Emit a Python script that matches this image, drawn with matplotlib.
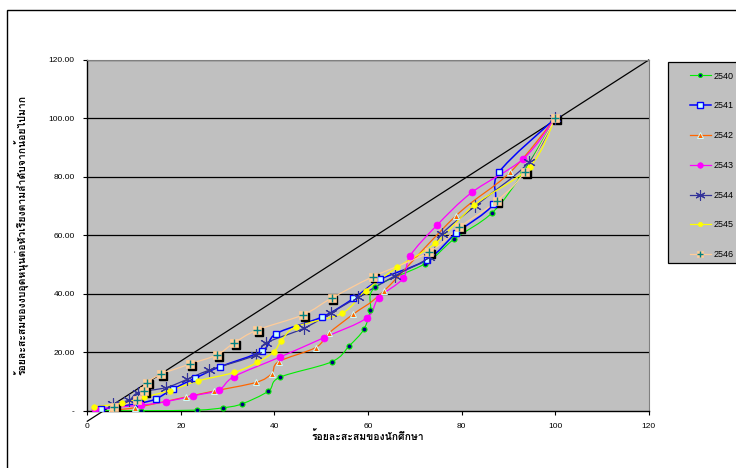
import matplotlib
matplotlib.use("Agg")
import matplotlib.pyplot as plt
from matplotlib import font_manager
from matplotlib.path import Path
from matplotlib.patches import PathPatch, Rectangle
from matplotlib.lines import Line2D
from matplotlib.legend_handler import HandlerTuple
import matplotlib.patheffects as pe
import matplotlib.transforms as mtransforms
import numpy as np

# ---- data ----
YEARS = ["2540", "2541", "2542", "2543", "2544", "2545", "2546"]

x2540 = [2, 11.5, 23.5, 29, 33, 38.7, 41.1, 52.2, 56, 59.1, 60.5, 61.5, 72.2, 78.3, 86.6, 93.2, 100]
y2540 = [0, 0, 0.2, 1, 2.3, 6.7, 11.4, 16.7, 22.2, 27.8, 34.4, 42.2, 50.3, 58.6, 67.8, 81.7, 100]

x2541 = [3, 11, 14.6, 18.3, 23, 28.3, 37.4, 40.4, 50.2, 56.9, 62.6, 72.7, 78.8, 86.8, 88, 100]
y2541 = [0.5, 2.5, 4.0, 7.4, 11.1, 15, 20.5, 26.4, 32.1, 38.4, 44.9, 51.7, 60.7, 70.7, 81.6, 100]

x2542 = [5, 10.1, 21.1, 27, 36.1, 39.4, 40.9, 48.8, 51.6, 56.8, 63.5, 78.8, 90.4, 100]
y2542 = [0.3, 1.0, 4.7, 6.7, 9.7, 12.7, 16.8, 21.6, 26.5, 33, 41.1, 66.7, 81.6, 100]

x2543 = [1.6, 11.5, 16.8, 22.6, 28.1, 31.4, 41.1, 50.6, 59.7, 62.3, 67.5, 69, 74.7, 82.2, 93.2, 100]
y2543 = [0.6, 1.9, 3.1, 5.1, 7.1, 11.7, 18.3, 25, 31.7, 38.7, 45.3, 53, 63.4, 74.7, 86.2, 100]

x2544 = [5.6, 9, 10.9, 16.8, 21.3, 26.1, 36.1, 38.1, 46.3, 52, 57.9, 65.8, 73, 75.8, 82.8, 94.4, 100]
y2544 = [2.2, 3.7, 6.2, 7.9, 10.7, 13.9, 19.1, 23.1, 28.2, 33.4, 38.9, 46.2, 52.5, 60.5, 69.9, 85, 100]

x2545 = [1.4, 7.4, 12.1, 17.7, 23.7, 31.4, 36.3, 39.9, 41.5, 44.7, 54.4, 59.5, 66.3, 74.4, 82.7, 94.6, 100]
y2545 = [1.4, 2.5, 4.6, 6.9, 10.2, 13.1, 16.5, 20.2, 24, 28.8, 33.3, 41.1, 49.1, 57.3, 70.3, 83.5, 100]

x2546 = [5.8, 10.7, 12.2, 12.8, 15.8, 22, 27.7, 31.3, 36.3, 46.1, 52.2, 61.1, 73, 79.5, 87.5, 93.5, 100]
y2546 = [1.4, 3.7, 6.7, 9.6, 12.5, 16, 19.1, 23.1, 27.6, 32.8, 38.5, 45.9, 54.2, 62.7, 71.7, 81.7, 100]

SERIES_X = [x2540, x2541, x2542, x2543, x2544, x2545, x2546]
SERIES_Y = [y2540, y2541, y2542, y2543, y2544, y2545, y2546]

EQUALITY_X = [0, 120]
EQUALITY_Y = [-3.6, 120]

XTICKS = [0, 20, 40, 60, 80, 100, 120]
YTICKS = [0, 20, 40, 60, 80, 100, 120]
YTICKLABELS = ["-", "20.00", "40.00", "60.00", "80.00", "100.00", "120.00"]

XLABEL = "ร้อยละสะสมของนักศึกษา"
YLABEL = "ร้อยละสะสมของงบอุดหนุนต่อหัวเรียงตามลำดับจากน้อยไปมาก"

# ---- styles ----
STYLES = [
    dict(color="#00ee00", marker="o", ms=3.6, mfc="#000080", mec="#00ee00", mew=0.8, lw=0.8),
    dict(color="#0000ff", marker="s", ms=5.0, mfc="#ccffff", mec="#0000ff", mew=1.0, lw=1.1),
    dict(color="#ff6600", marker="^", ms=5.0, mfc="#ff6600", mec="#ccffff", mew=0.7, lw=0.9),
    dict(color="#ff00ff", marker="o", ms=5.0, mfc="#ff00ff", mec="#ff00ff", mew=0.5, lw=0.9),
    dict(color="#333399", marker=(6, 2, 0), ms=9.0, mfc="#333399", mec="#333399", mew=0.8, lw=0.9),
    dict(color="#ffff00", marker="o", ms=4.0, mfc="#ffff00", mec="#ffff00", mew=0.5, lw=0.9),
    dict(color="#ffcc99", marker="s", ms=6.0, mfc="#ffcc99", mec="#ffcc99", mew=0.5, lw=0.9),
]


def find_thai_font():
    try:
        from fontTools.ttLib import TTFont
    except Exception:
        return None, None
    regular, bold = None, None
    for f in sorted(font_manager.findSystemFonts()):
        name = f.lower()
        if "oblique" in name or "italic" in name:
            continue
        try:
            tt = TTFont(f, fontNumber=0, lazy=True)
            cmap = tt.getBestCmap() or {}
        except Exception:
            continue
        if 0x0E23 in cmap and 0x0E2D in cmap:
            if "bold" in name and bold is None:
                bold = f
            elif "bold" not in name and regular is None:
                regular = f
    return regular, bold


def smooth_path(xs, ys):
    """Excel-like smoothed line as cubic bezier segments."""
    pts = np.column_stack([xs, ys]).astype(float)
    n = len(pts)
    verts = [pts[0]]
    codes = [Path.MOVETO]
    for i in range(n - 1):
        p0 = pts[i - 1] if i > 0 else pts[i]
        p1, p2 = pts[i], pts[i + 1]
        p3 = pts[i + 2] if i + 2 < n else pts[i + 1]
        c1 = p1 + (p2 - p0) / 6.0
        c2 = p2 - (p3 - p1) / 6.0
        verts += [c1, c2, p2]
        codes += [Path.CURVE4] * 3
    return Path(verts, codes)


thai_reg, thai_bold = find_thai_font()
thai_file = thai_bold or thai_reg
if thai_file:
    label_font = font_manager.FontProperties(fname=thai_file, size=7.5, weight="bold")
else:
    label_font = font_manager.FontProperties(family="DejaVu Sans", size=7.5, weight="bold")
# fake bold when only a regular Thai face is available
label_fx = [] if thai_bold else [pe.withStroke(linewidth=0.5, foreground="black")]

plt.rcParams["font.family"] = ["Liberation Sans", "DejaVu Sans"]

fig = plt.figure(figsize=(7.36, 4.68), dpi=100)
fig.patch.set_facecolor("white")

# outer chart border
fig.patches.append(Rectangle((7 / 736, -0.1), 1.2, 1.1 - 10 / 468,
                             transform=fig.transFigure, fill=False,
                             edgecolor="black", lw=1.0))

ax = fig.add_axes([87.3 / 736, 1 - 410.7 / 468, (648.7 - 87.3) / 736, (410.7 - 60) / 468])
ax.set_facecolor("#c0c0c0")
ax.set_xlim(0, 120)
ax.set_ylim(0, 120)

for yv in YTICKS[1:]:
    ax.axhline(yv, color="black", lw=0.9, zorder=1)

ax.plot(EQUALITY_X, EQUALITY_Y, color="black", lw=0.9, zorder=2, clip_on=False)

shadow = mtransforms.offset_copy(ax.transData, fig=fig, x=1.3, y=-1.3, units="points")

handles = []
for xs, ys, st, yr in zip(SERIES_X, SERIES_Y, STYLES, YEARS):
    patch = PathPatch(smooth_path(xs, ys), facecolor="none", edgecolor=st["color"],
                      lw=st["lw"], zorder=3)
    ax.add_patch(patch)
    if yr == "2546":
        ax.plot(xs, ys, ls="none", marker="s", ms=st["ms"], mfc="black", mec="black",
                transform=shadow, zorder=4)
    ax.plot(xs, ys, ls="none", marker=st["marker"], ms=st["ms"], mfc=st["mfc"],
            mec=st["mec"], mew=st["mew"], zorder=5)
    h = Line2D([], [], color=st["color"], lw=st["lw"], marker=st["marker"],
               ms=st["ms"] * 0.8, mfc=st["mfc"], mec=st["mec"], mew=st["mew"])
    if yr == "2546":
        ax.plot(xs, ys, ls="none", marker="+", ms=st["ms"] * 0.9, mec="#008080",
                mew=1.0, zorder=6)
        h = (h, Line2D([], [], ls="none", marker="+", ms=st["ms"] * 0.75,
                       mec="#008080", mew=1.0))
    handles.append(h)

ax.set_xticks(XTICKS)
ax.set_yticks(YTICKS)
ax.set_yticklabels(YTICKLABELS)
ax.tick_params(axis="both", direction="out", length=3, width=0.8, labelsize=6,
               colors="black", pad=6)
for s in ["left", "bottom"]:
    ax.spines[s].set_color("black")
    ax.spines[s].set_linewidth(1.0)
for s in ["top", "right"]:
    ax.spines[s].set_color("#808080")
    ax.spines[s].set_linewidth(0.8)

fig.text(368 / 736, 1 - 437 / 468, XLABEL, ha="center", va="center",
         fontproperties=label_font, path_effects=label_fx)
fig.text(22 / 736, 1 - 235 / 468, YLABEL, ha="center", va="center",
         rotation=90, fontproperties=label_font, path_effects=label_fx)

# legend box (runs past the right edge like the reference)
fig.patches.append(Rectangle((668 / 736, 1 - 263 / 468), 0.2, (263 - 62) / 468,
                             transform=fig.transFigure, facecolor="#c0c0c0",
                             edgecolor="black", lw=0.9, zorder=0))
leg = fig.legend(handles, YEARS, loc="upper left",
                 bbox_to_anchor=(686 / 736, 1 - 68 / 468),
                 frameon=False, fontsize=6.5, labelspacing=2.3, handlelength=2.4,
                 handletextpad=0.3, borderaxespad=0,
                 handler_map={tuple: HandlerTuple(ndivide=1)})

fig.savefig("out.png", dpi=100)
